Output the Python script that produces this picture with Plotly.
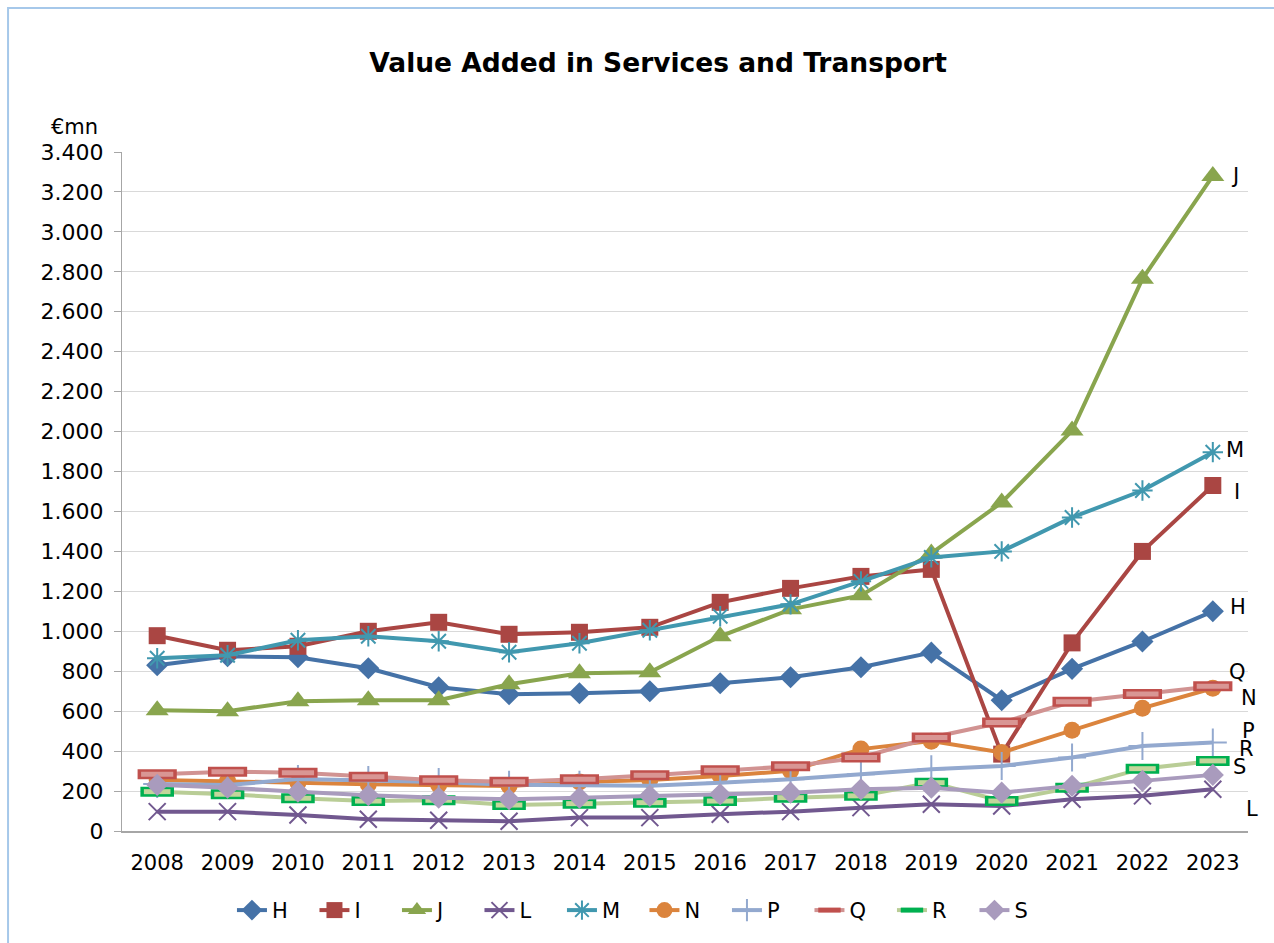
import plotly.graph_objects as go

years = [str(y) for y in range(2008, 2024)]

H = [830, 875, 870, 815, 720, 685, 690, 700, 740, 770, 820, 893, 655, 812, 949, 1100]
I = [978, 905, 925, 1000, 1045, 985, 995, 1020, 1145, 1215, 1275, 1310, 385, 942, 1400, 1730]
J = [605, 600, 650, 655, 655, 735, 790, 795, 975, 1110, 1180, 1390, 1645, 2005, 2765, 3280]
L = [97, 97, 80, 59, 54, 49, 67, 67, 84, 97, 117, 134, 125, 159, 176, 209]
M = [865, 880, 955, 975, 950, 895, 940, 1005, 1075, 1135, 1250, 1370, 1400, 1570, 1705, 1897]
N = [255, 250, 242, 234, 230, 225, 245, 255, 276, 301, 410, 450, 393, 505, 615, 715]
P = [235, 230, 260, 255, 245, 232, 231, 226, 242, 259, 284, 309, 326, 368, 426, 443]
Q = [284, 297, 292, 272, 254, 247, 259, 279, 304, 324, 368, 468, 543, 647, 686, 725]
R = [197, 184, 164, 150, 154, 130, 137, 142, 150, 167, 176, 242, 150, 217, 312, 351]
S = [231, 217, 197, 179, 167, 159, 167, 176, 184, 192, 209, 217, 192, 226, 251, 281]

series = [
    ("H", H), ("I", I), ("J", J), ("L", L), ("M", M),
    ("N", N), ("P", P), ("Q", Q), ("R", R), ("S", S),
]

# style per series: line colour, marker symbol, marker size, marker colour, marker line width
styles = {
    "H": dict(color="#4572A7", symbol="diamond", size=17, mcolor="#4572A7", mlw=0),
    "I": dict(color="#AA4643", symbol="square", size=17, mcolor="#AA4643", mlw=0),
    "J": dict(color="#89A54E", symbol="triangle-up", size=20, mcolor="#89A54E", mlw=0),
    "L": dict(color="#71588F", symbol="x-thin", size=17, mcolor="#71588F", mlw=2),
    "M": dict(color="#4198AF", symbol="asterisk", size=17, mcolor="#4198AF", mlw=2),
    "N": dict(color="#DB843D", symbol="circle", size=17, mcolor="#DB843D", mlw=0),
    "P": dict(color="#93A9CF", symbol="cross-thin", size=20, mcolor="#93A9CF", mlw=2),
    "Q": dict(color="#D19392", symbol="line-ew", size=28, mcolor="#C0504D", mlw=10),
    "R": dict(color="#B9CD96", symbol="line-ew", size=24, mcolor="#00B050", mlw=10),
    "S": dict(color="#A99BBD", symbol="diamond", size=17, mcolor="#A99BBD", mlw=0),
}
inner_fill = {"Q": "#D99694", "R": "#C3D69B"}

# label offsets (px) for end-of-line labels
label_shift = {
    "H": (25, 4), "I": (24, -6), "J": (22, 0), "L": (39, -20), "M": (22, 2),
    "N": (36, -10), "P": (36, 12), "Q": (25, 14), "R": (34, 12), "S": (27, 8),
}

fig = go.Figure()
for name, vals in series:
    st = styles[name]
    fig.add_trace(go.Scatter(
        x=years, y=vals, name=name, mode="lines+markers",
        line=dict(color=st["color"], width=4),
        marker=dict(symbol=st["symbol"], size=st["size"], color=st["mcolor"],
                    line=dict(width=st["mlw"], color=st["mcolor"])),
    ))
    if name in inner_fill:
        fig.add_trace(go.Scatter(
            x=years, y=vals, mode="markers", showlegend=False, hoverinfo="skip",
            marker=dict(symbol="line-ew", size=st["size"] - 5, color=inner_fill[name],
                        line=dict(width=5, color=inner_fill[name])),
        ))

last_idx = len(years) - 1  # category index of the last year
for name, vals in series:
    dx, dy = label_shift[name]
    fig.add_annotation(x=last_idx, y=vals[-1], xref="x", yref="y", text=name,
                       showarrow=False, xshift=dx, yshift=dy,
                       font=dict(size=21, color="#000000"))

fig.add_annotation(x=-0.0426, y=1.0368, xref="paper", yref="paper", text="€mn",
                   xanchor="center", yanchor="middle",
                   showarrow=False, font=dict(size=21, color="#000000"))

fig.add_shape(type="rect", xref="paper", yref="paper",
              x0=-0.1012, x1=1.3, y0=-0.5, y1=1.2122,
              line=dict(color="#A6C8EA", width=2), fillcolor="rgba(0,0,0,0)")

fig.update_layout(
    width=1274, height=943,
    margin=dict(l=122, r=26, t=152, b=112),
    paper_bgcolor="white", plot_bgcolor="white",
    separators=",.",
    font=dict(family="DejaVu Sans", size=21, color="#000000"),
    title=dict(text="<b>Value Added in Services and Transport</b>",
               x=0.5165, y=0.933, xanchor="center", yanchor="middle",
               font=dict(family="DejaVu Sans", size=26.5, color="#000000")),
    showlegend=True,
    legend=dict(orientation="h", x=0.464, y=-0.117, xanchor="center", yanchor="middle",
                font=dict(size=21), entrywidth=37.5, itemwidth=30, tracegroupgap=0),
    xaxis=dict(type="category", range=[-0.5, 15.5], showgrid=False,
               showline=True, linecolor="#A6A6A6", linewidth=2,
               ticks="", ticklabelstandoff=12, tickfont=dict(size=21)),
    yaxis=dict(range=[0, 3400], dtick=200, tickformat=",d",
               showgrid=True, gridcolor="#D9D9D9", gridwidth=1,
               showline=True, linecolor="#A6A6A6", linewidth=1,
               ticks="outside", ticklen=7, tickcolor="#A6A6A6",
               ticklabelstandoff=6, tickfont=dict(size=22), zeroline=False),
)

fig.write_html("out.html", config={"displayModeBar": False},
               post_script="document.body.style.margin='0px';")
